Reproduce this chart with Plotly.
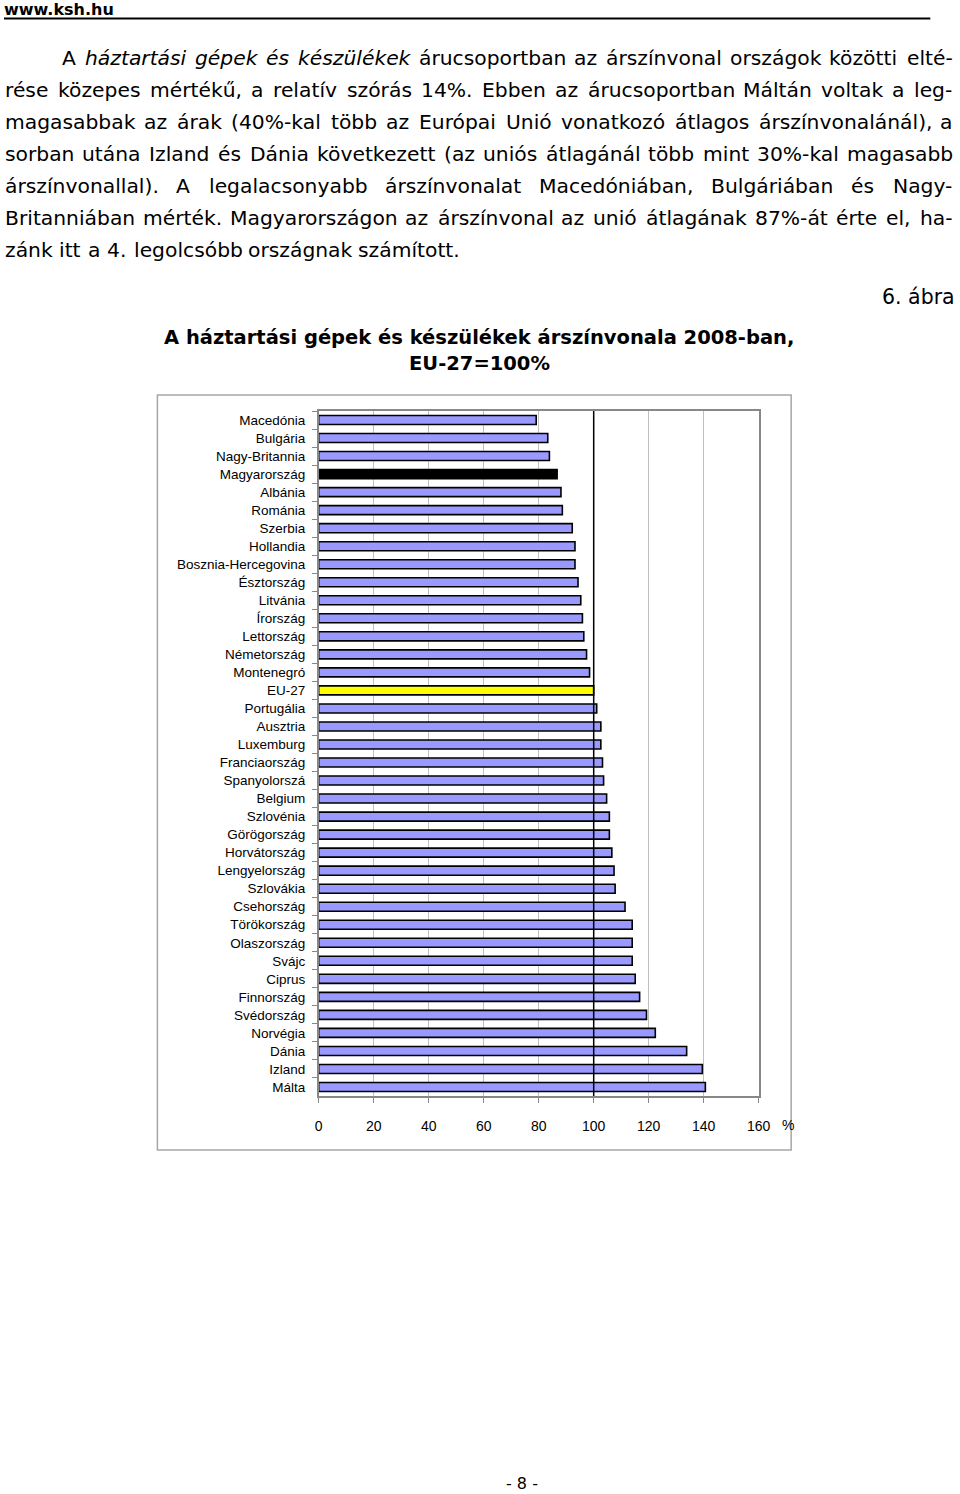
import plotly.graph_objects as go

# ---------------- data ----------------
countries = ["Macedónia", "Bulgária", "Nagy-Britannia", "Magyarország", "Albánia",
             "Románia", "Szerbia", "Hollandia", "Bosznia-Hercegovina", "Észtország",
             "Litvánia", "Írország", "Lettország", "Németország", "Montenegró",
             "EU-27", "Portugália", "Ausztria", "Luxemburg", "Franciaország",
             "Spanyolorszá", "Belgium", "Szlovénia", "Görögország", "Horvátország",
             "Lengyelország", "Szlovákia", "Csehország", "Törökország", "Olaszország",
             "Svájc", "Ciprus", "Finnország", "Svédország", "Norvégia",
             "Dánia", "Izland", "Málta"]
values = [79.1, 83.3, 83.9, 86.7, 88.1, 88.6, 92.2, 93.2, 93.2, 94.3,
          95.3, 95.9, 96.4, 97.4, 98.5, 100.0, 101.1, 102.6, 102.6, 103.2,
          103.6, 104.7, 105.7, 105.7, 106.6, 107.4, 107.8, 111.4, 114.0, 114.0,
          114.0, 115.1, 116.7, 119.2, 122.4, 133.8, 139.5, 140.6]
x_ticks = [0, 20, 40, 60, 80, 100, 120, 140, 160]
x_tick_labels = ["0", "20", "40", "60", "80", "100", "120", "140", "160"]
reference_level = 100
highlight_home = "Magyarország"
highlight_eu = "EU-27"

header_text = "www.ksh.hu"
title_line1 = "A háztartási gépek és készülékek árszínvonala 2008-ban,"
title_line2 = "EU-27=100%"
figure_no = "6. ábra"
page_no = "- 8 -"
paragraph_lines = [
    "A <i>háztartási</i> <i>gépek</i> <i>és</i> <i>készülékek</i> árucsoportban az árszínvonal országok közötti elté-",
    "rése közepes mértékű, a relatív szórás 14%. Ebben az árucsoportban Máltán voltak a leg-",
    "magasabbak az árak (40%-kal több az Európai Unió vonatkozó átlagos árszínvonalánál), a",
    "sorban utána Izland és Dánia következett (az uniós átlagánál több mint 30%-kal magasabb",
    "árszínvonallal). A legalacsonyabb árszínvonalat Macedóniában, Bulgáriában és Nagy-",
    "Britanniában mérték. Magyarországon az árszínvonal az unió átlagának 87%-át érte el, ha-",
    "zánk itt a 4. legolcsóbb országnak számított.",
]

# ---------------- geometry helpers ----------------
W, H = 960, 1494


def px(x):
    return x / W


def py(y):
    return 1 - y / H


PLOT_L, PLOT_R, PLOT_T, PLOT_B = 320, 767.5, 411, 1096

# DejaVu Sans advance widths (units of 1/2048 em)
DV = {" ": 651, "%": 1946, "(": 799, ")": 799, ",": 651, "-": 739, ".": 651,
      "A": 1401, "B": 1405, "D": 1577, "E": 1294, "I": 604, "M": 1767, "N": 1532, "U": 1497,
      "a": 1255, "b": 1300, "c": 1126, "d": 1300, "e": 1260, "f": 721, "g": 1300, "h": 1298,
      "i": 569, "j": 569, "k": 1186, "l": 569, "m": 1995, "n": 1298, "o": 1253, "p": 1300,
      "r": 842, "s": 1067, "t": 803, "u": 1298, "v": 1212, "w": 1675, "x": 1212, "y": 1212,
      "z": 1075, "á": 1255, "é": 1260, "í": 569, "ó": 1253, "ö": 1253, "ő": 1253,
      "ú": 1298, "ü": 1298, "ű": 1298}
for d in "0123456789":
    DV[d] = 1303


def text_width(s, fs):
    s = s.replace("<i>", "").replace("</i>", "")
    return sum(DV.get(ch, 1200) for ch in s) / 2048.0 * fs


PFONT = "DejaVu Sans"
PFS = 20.3
annotations = []

line_y0, line_pitch = 57.5, 32.1
for i, line in enumerate(paragraph_lines):
    words = line.split(" ")
    yc = line_y0 + i * line_pitch
    left = 58 if i == 0 else 0
    right = 963
    widths = [text_width(w, PFS) for w in words]
    if i < len(paragraph_lines) - 1 and len(words) > 1:
        gap = (right - left - sum(widths)) / (len(words) - 1)
    else:
        gap = DV[" "] / 2048.0 * PFS * 1.15
    x = left
    for w, wd in zip(words, widths):
        annotations.append(dict(x=px(x), y=py(yc), xref="paper", yref="paper",
                                text=w, showarrow=False, xanchor="left", yanchor="middle",
                                font=dict(family=PFONT, size=PFS, color="#000000"),
                                borderpad=0))
        x += wd + gap

# header
annotations.append(dict(x=px(-1), y=py(10), xref="paper", yref="paper",
                        text="<b>" + header_text + "</b>",
                        showarrow=False, xanchor="left", yanchor="middle", borderpad=0,
                        font=dict(family="DejaVu Sans", size=16, color="#000000")))
# figure number
annotations.append(dict(x=px(968), y=py(297), xref="paper", yref="paper", text=figure_no,
                        showarrow=False, xanchor="right", yanchor="middle", borderpad=0,
                        font=dict(family=PFONT, size=20.5, color="#000000")))
# chart title
annotations.append(dict(x=px(483.5), y=py(337), xref="paper", yref="paper", text="<b>" + title_line1 + "</b>",
                        showarrow=False, xanchor="center", yanchor="middle", borderpad=0,
                        font=dict(family="DejaVu Sans", size=19.5, color="#000000")))
annotations.append(dict(x=px(483.5), y=py(363), xref="paper", yref="paper", text="<b>" + title_line2 + "</b>",
                        showarrow=False, xanchor="center", yanchor="middle", borderpad=0,
                        font=dict(family="DejaVu Sans", size=19.5, color="#000000")))
# percent sign after last tick label
annotations.append(dict(x=px(790), y=py(1125), xref="paper", yref="paper", text="%",
                        showarrow=False, xanchor="left", yanchor="middle", borderpad=0,
                        font=dict(family="Liberation Sans", size=14, color="#000000")))
# page number
annotations.append(dict(x=px(527), y=py(1483), xref="paper", yref="paper", text=page_no,
                        showarrow=False, xanchor="center", yanchor="middle", borderpad=0,
                        font=dict(family=PFONT, size=16, color="#000000")))

bar_colors = ["#000000" if c == highlight_home else "#FFFF00" if c == highlight_eu else "#9999FF"
              for c in countries]

fig = go.Figure()
fig.add_trace(go.Bar(
    y=countries, x=values, orientation="h",
    marker=dict(color=bar_colors, line=dict(color="#000000", width=1.6)),
    hoverinfo="x+y", showlegend=False,
))

shapes = [
    # header underline
    dict(type="line", xref="paper", yref="paper", x0=px(0), x1=px(942), y0=py(18.5), y1=py(18.5),
         line=dict(color="#000000", width=2)),
    # outer chart frame
    dict(type="rect", xref="paper", yref="paper", x0=px(156), x1=px(800.5), y0=py(395), y1=py(1150),
         line=dict(color="#A6A6A6", width=1.5), fillcolor="rgba(0,0,0,0)", layer="below"),
    # reference line at 100
    dict(type="line", xref="x", yref="paper", x0=reference_level, x1=reference_level,
         y0=py(PLOT_B), y1=py(PLOT_T), line=dict(color="#000000", width=1.5), layer="above"),
]

LABEL_FONT = "Liberation Sans"

fig.update_layout(
    width=W, height=H, autosize=False,
    margin=dict(l=0, r=0, t=0, b=0),
    paper_bgcolor="#FFFFFF", plot_bgcolor="#FFFFFF",
    bargap=0.5,
    showlegend=False,
    annotations=annotations,
    shapes=shapes,
    font=dict(family="Liberation Sans", color="#000000"),
    xaxis=dict(domain=[px(PLOT_L), px(PLOT_R)], range=[0, 160], tickvals=x_ticks, ticktext=x_tick_labels,
               showgrid=True, gridcolor="#C0C0C0", gridwidth=1, zeroline=False,
               showline=True, linecolor="#888888", linewidth=1.5, mirror=True,
               ticks="outside", ticklen=5, tickcolor="#888888", tickwidth=1,
               tickfont=dict(family=LABEL_FONT, size=14, color="#000000"),
               ticklabelstandoff=11, fixedrange=True),
    yaxis=dict(domain=[py(PLOT_B), py(PLOT_T)], autorange="reversed", type="category",
               showgrid=False, zeroline=False,
               showline=True, linecolor="#888888", linewidth=1.5, mirror=True,
               ticks="outside", ticklen=5, tickcolor="#888888", tickwidth=1, tickson="boundaries",
               tickfont=dict(family=LABEL_FONT, size=13.5, color="#000000"),
               ticklabelstandoff=9, fixedrange=True),
)

fig.write_html("out.html",
               config={"displayModeBar": False},
               post_script="document.body.style.margin='0';document.body.style.padding='0';")
